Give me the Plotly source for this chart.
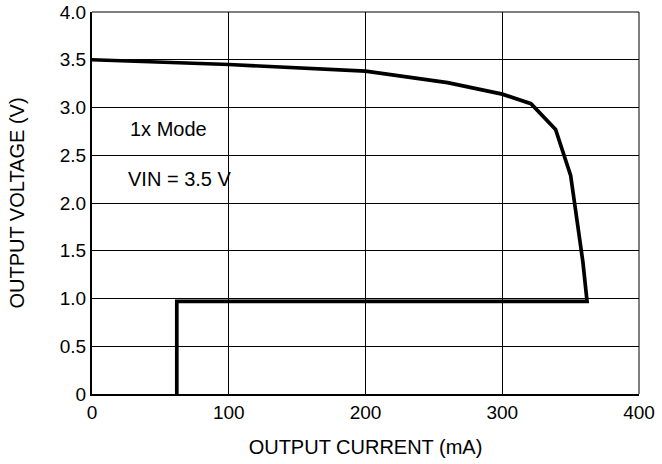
import plotly.graph_objects as go

# Output voltage vs. output current, 1x mode, VIN = 3.5 V
current_ma = [0, 100, 200, 260, 300, 321, 339, 350, 359, 362, 62, 62]
voltage_v = [3.5, 3.45, 3.38, 3.26, 3.14, 3.04, 2.77, 2.29, 1.38, 0.97, 0.97, 0]

x_ticks = [0, 100, 200, 300, 400]
x_tick_text = ["0", "100", "200", "300", "400"]
y_ticks = [0, 0.5, 1.0, 1.5, 2.0, 2.5, 3.0, 3.5, 4.0]
y_tick_text = ["0", "0.5", "1.0", "1.5", "2.0", "2.5", "3.0", "3.5", "4.0"]

FONT = "Liberation Sans, Arial, Helvetica, sans-serif"

fig = go.Figure()
fig.add_trace(go.Scatter(
    x=current_ma, y=voltage_v, mode="lines",
    line=dict(color="black", width=3.7),
    showlegend=False, hoverinfo="skip",
))

fig.update_layout(
    width=662, height=464,
    margin=dict(l=92, r=23, t=12, b=70),
    paper_bgcolor="white", plot_bgcolor="white",
    font=dict(family=FONT, size=19, color="black"),
    xaxis=dict(
        range=[0, 400], tickvals=x_ticks, ticktext=x_tick_text,
        showgrid=True, gridcolor="black", gridwidth=1,
        showline=True, linecolor="black", linewidth=2,
        zeroline=False, ticks="", automargin=False,
        tickfont=dict(size=19),
        title=dict(text="OUTPUT CURRENT (mA)", standoff=18, font=dict(size=20)),
    ),
    yaxis=dict(
        range=[0, 4], tickvals=y_ticks, ticktext=y_tick_text,
        showgrid=True, gridcolor="black", gridwidth=1,
        showline=True, linecolor="black", linewidth=2,
        zeroline=False, ticks="", automargin=False,
        tickfont=dict(size=19),
        title=dict(text="OUTPUT VOLTAGE (V)", standoff=30, font=dict(size=20)),
    ),
    shapes=[
        dict(type="line", xref="paper", yref="paper", x0=0, x1=1, y0=1, y1=1,
             line=dict(color="black", width=1)),
        dict(type="line", xref="paper", yref="paper", x0=1, x1=1, y0=0, y1=1,
             line=dict(color="black", width=1)),
    ],
    annotations=[
        dict(x=26, y=2.77, xref="x", yref="y", text="1x Mode", showarrow=False,
             xanchor="left", font=dict(size=20)),
        dict(x=25, y=2.25, xref="x", yref="y", text="VIN = 3.5 V", showarrow=False,
             xanchor="left", font=dict(size=20)),
    ],
)

fig.write_html("out.html")
